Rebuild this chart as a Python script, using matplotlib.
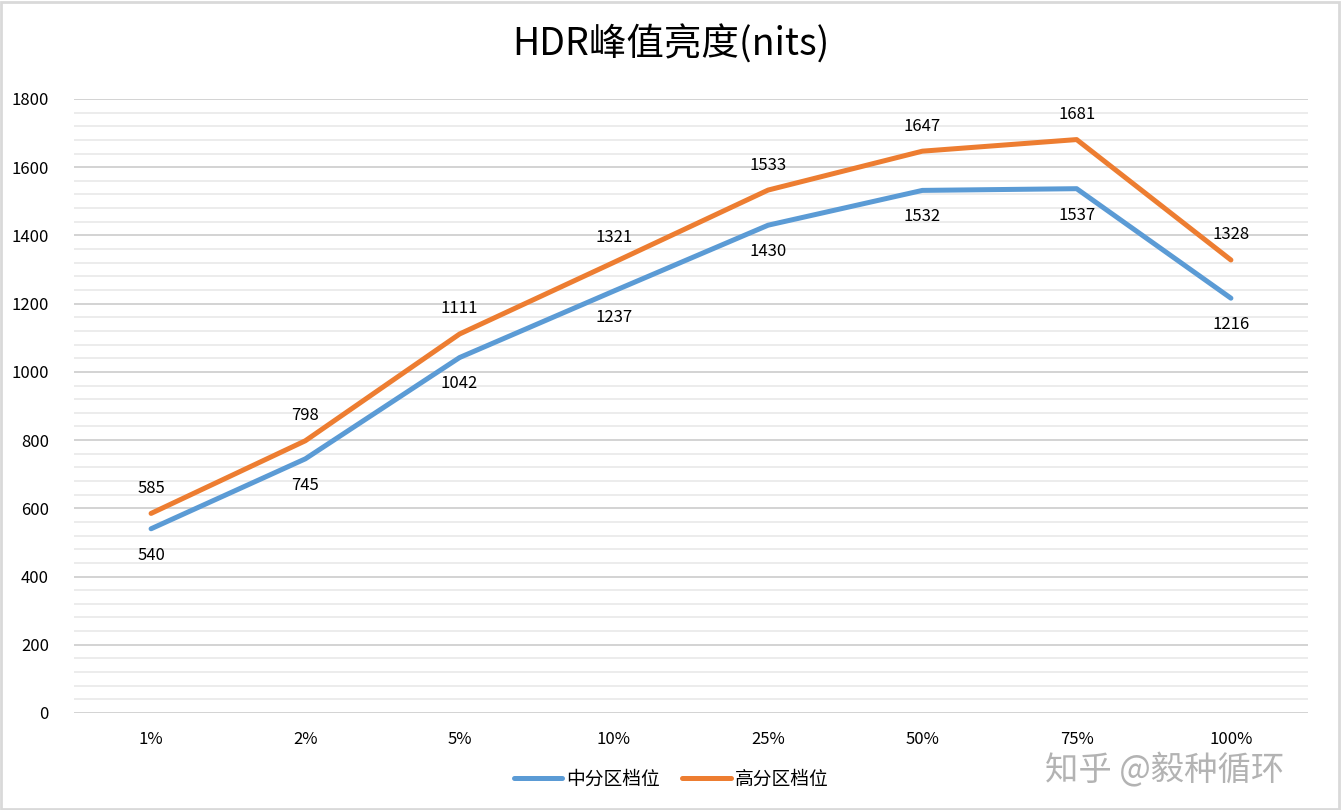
import matplotlib
matplotlib.use("Agg")
import matplotlib.pyplot as plt
from matplotlib.ticker import MultipleLocator
from matplotlib.patches import Rectangle

plt.rcParams['font.family'] = ['Noto Sans CJK SC', 'DejaVu Sans']

# data
categories = ['1%', '2%', '5%', '10%', '25%', '50%', '75%', '100%']
mid_zone = [540, 745, 1042, 1237, 1430, 1532, 1537, 1216]
high_zone = [585, 798, 1111, 1321, 1533, 1647, 1681, 1328]

blue = '#5B9BD5'
orange = '#ED7D31'

fig = plt.figure(figsize=(13.42, 8.10), dpi=100)
ax = fig.add_axes([0.0551, 0.1198, 0.9196, 0.758])

x = list(range(len(categories)))
ax.plot(x, mid_zone, color=blue, lw=3.6, solid_capstyle='round', solid_joinstyle='round', label='中分区档位', zorder=3)
ax.plot(x, high_zone, color=orange, lw=3.6, solid_capstyle='round', solid_joinstyle='round', label='高分区档位', zorder=4)

for xi, v in zip(x, mid_zone):
    ax.annotate(str(v), (xi, v), xytext=(0, -19), textcoords='offset points',
                ha='center', va='center', fontsize=12, color='#000000')
for xi, v in zip(x, high_zone):
    ax.annotate(str(v), (xi, v), xytext=(0, 18), textcoords='offset points',
                ha='center', va='center', fontsize=12, color='#000000')

ax.set_xlim(-0.5, len(categories) - 0.5)
ax.set_ylim(0, 1800)
ax.yaxis.set_major_locator(MultipleLocator(200))
ax.yaxis.set_minor_locator(MultipleLocator(40))
ax.grid(which='major', axis='y', color='#D0D0D0', lw=1.3)
ax.grid(which='minor', axis='y', color='#EBEBEB', lw=1.3)
ax.set_axisbelow(True)
ax.set_xticks(x)
ax.set_xticklabels(categories)
for s in ax.spines.values():
    s.set_visible(False)
ax.tick_params(axis='both', which='both', length=0, labelsize=12, colors='#000000')
ax.tick_params(axis='x', pad=13)
ax.tick_params(axis='y', pad=18)

fig.text(0.5, 0.945, 'HDR峰值亮度(nits)', ha='center', va='center', fontsize=27, color='#000000')

leg = fig.legend(loc='center', bbox_to_anchor=(0.5, 0.038), ncol=2, frameon=False,
                 fontsize=13.5, handlelength=2.6, columnspacing=1.2, handletextpad=0.2)

fig.text(0.868, 0.048, '知乎 @毅种循环', ha='center', va='center', fontsize=24,
         color='#A0A0A0', alpha=0.8)

fig.patches.append(Rectangle((0.001, 0.001), 0.997, 0.997, transform=fig.transFigure,
                             fill=False, edgecolor='#D9D9D9', lw=2))

plt.savefig('out.png', dpi=100)
